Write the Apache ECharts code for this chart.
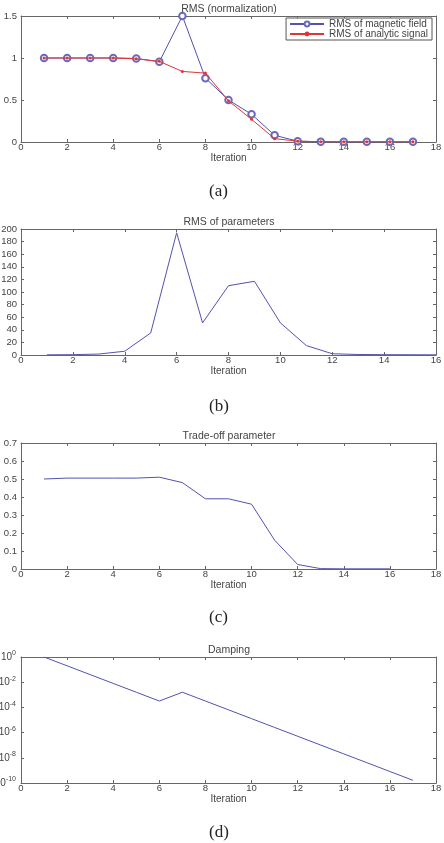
<!DOCTYPE html>
<html lang="en">
<head>
    <meta charset="UTF-8">
    <title>Inversion convergence</title>
    <style>
        body, html {
            margin: 0;
            padding: 0;
            background: #fff;
        }

        #main {
            width: 444px;
            height: 843px;
        }
    </style>
</head>
<body>
<div id="main"></div>
<script src="https://cdn.jsdelivr.net/npm/echarts@6/dist/echarts.min.js"></script>
<script>

    // (a) RMS (normalization)
    let iterA = [1, 2, 3, 4, 5, 6, 7, 8, 9, 10, 11, 12, 13, 14, 15, 16, 17];
    let rmsField = [1, 1, 1, 1, 0.995, 0.955, 1.5, 0.76, 0.5, 0.33, 0.08, 0.01, 0.003, 0.002, 0.002, 0.002, 0.002];
    let rmsSignal = [1, 1, 1, 1, 0.99, 0.96, 0.84, 0.82, 0.49, 0.27, 0.04, 0.01, 0.003, 0.002, 0.002, 0.002, 0.002];

    // (b) RMS of parameters
    let iterB = [1, 2, 3, 4, 5, 6, 7, 8, 9, 10, 11, 12, 13, 14, 15, 16];
    let rmsParams = [0.3, 0.5, 1.5, 6, 35, 194, 51, 110, 117, 51, 15, 2, 0.8, 0.5, 0.4, 0.3];

    // (c) Trade-off parameter
    let iterC = [1, 2, 3, 4, 5, 6, 7, 8, 9, 10, 11, 12, 13, 14, 15, 16];
    let tradeOff = [0.5, 0.505, 0.505, 0.505, 0.505, 0.51, 0.48, 0.39, 0.39, 0.36, 0.16, 0.025, 0.002, 0.001, 0.001, 0.001];

    // (d) Damping
    let iterD = [1, 2, 3, 4, 5, 6, 7, 8, 9, 10, 11, 12, 13, 14, 15, 16, 17];
    let damping = [1, 0.2, 0.04, 0.008, 0.0016, 0.00032, 0.0016, 0.00032, 0.000064, 0.0000128, 0.00000256,
        5.12e-7, 1.024e-7, 2.048e-8, 4.096e-9, 8.192e-10, 1.6384e-10];

    let titles = ['RMS (normalization)', 'RMS of parameters', 'Trade-off parameter', 'Damping'];
    let panelLabels = ['(a)', '(b)', '(c)', '(d)'];
    let legendNames = ['RMS of magnetic field', 'RMS of analytic signal'];

    let gridTops = [16, 229, 443, 657];
    let labelTops = [183, 398, 609, 824];
    let xMax = [18, 16, 18, 18];

    let font = 'Liberation Sans';
    let axisColor = '#666';
    let textColor = '#444';
    let lineBlue = '#5252b0';

    function pairs(xs, ys) {
        let out = [];
        for (let i = 0; i < xs.length; i++) {
            out.push([xs[i], ys[i]]);
        }
        return out;
    }

    function baseAxis(showLabel) {
        return {
            axisLine: {onZero: false, lineStyle: {color: axisColor, width: 1}},
            axisTick: {show: true, inside: true, length: 3, lineStyle: {color: axisColor}},
            axisLabel: {show: showLabel, color: textColor, fontFamily: font, fontSize: 9.5},
            splitLine: {show: false}
        };
    }

    let grids = [], xAxes = [], yAxes = [], titleList = [], graphics = [];
    for (let g = 0; g < 4; g++) {
        grids.push({left: 21, right: 8, top: gridTops[g], height: 126, outerBoundsMode: 'none'});
        titleList.push({
            text: titles[g],
            left: 229,
            top: gridTops[g] - 12,
            padding: 0,
            textAlign: 'center',
            textStyle: {fontFamily: font, fontSize: 10.5, fontWeight: 'normal', color: textColor}
        });
        graphics.push({
            type: 'text',
            left: 209,
            top: labelTops[g],
            style: {text: panelLabels[g], font: '17px "Liberation Serif"', fill: '#222'}
        });

        let xb = Object.assign(baseAxis(true), {
            type: 'value', gridIndex: g, position: 'bottom', min: 0, max: xMax[g], interval: 2,
            name: 'Iteration', nameLocation: 'middle', nameGap: 7,
            nameTextStyle: {fontFamily: font, fontSize: 10, color: textColor, verticalAlign: 'top'}
        });
        xb.axisLabel.margin = 0;
        let xt = Object.assign(baseAxis(false), {
            type: 'value', gridIndex: g, position: 'top', min: 0, max: xMax[g], interval: 2
        });
        xAxes.push(xb, xt);
    }

    // y axes per panel
    let yCfg = [
        {min: 0, max: 1.5, interval: 0.5},
        {min: 0, max: 200, interval: 20},
        {min: 0, max: 0.7, interval: 0.1}
    ];
    for (let g = 0; g < 3; g++) {
        let yl = Object.assign(baseAxis(true), {
            type: 'value', gridIndex: g, position: 'left',
            min: yCfg[g].min, max: yCfg[g].max, interval: yCfg[g].interval
        });
        yl.axisLabel.margin = 4;
        let yr = Object.assign(baseAxis(false), {
            type: 'value', gridIndex: g, position: 'right',
            min: yCfg[g].min, max: yCfg[g].max, interval: yCfg[g].interval
        });
        yAxes.push(yl, yr);
    }
    let yLog = Object.assign(baseAxis(true), {
        type: 'log', logBase: 10, gridIndex: 3, position: 'left', min: 1e-10, max: 1, interval: 2
    });
    yLog.axisLabel.margin = 5;
    yLog.axisLabel.fontSize = 10;
    yLog.axisLabel.formatter = function (v) {
        return '10{s|' + Math.round(Math.log10(v)) + '}';
    };
    yLog.axisLabel.rich = {s: {fontSize: 7, fontFamily: font, color: textColor, padding: [0, 0, 7, 0]}};
    let yLogR = Object.assign(baseAxis(false), {
        type: 'log', logBase: 10, gridIndex: 3, position: 'right', min: 1e-10, max: 1, interval: 2
    });
    yAxes.push(yLog, yLogR);

    let myChart = echarts.init(document.getElementById('main'), null, {renderer: 'canvas'});
    let option = {
        backgroundColor: '#fff',
        animation: false,
        title: titleList,
        grid: grids,
        xAxis: xAxes,
        yAxis: yAxes,
        legend: {
            data: legendNames,
            orient: 'vertical',
            right: 12,
            top: 18,
            itemGap: 0,
            itemWidth: 34,
            itemHeight: 6,
            padding: [1, 4, 1, 3],
            borderColor: '#555',
            borderWidth: 1,
            backgroundColor: '#fff',
            textStyle: {fontFamily: font, fontSize: 10, lineHeight: 8, color: textColor}
        },
        graphic: graphics,
        series: [
            {
                name: legendNames[0],
                type: 'line',
                xAxisIndex: 0, yAxisIndex: 0,
                data: pairs(iterA, rmsField),
                symbol: 'emptyCircle',
                symbolSize: 6.5,
                lineStyle: {color: lineBlue, width: 1},
                itemStyle: {color: '#6a6abc', borderColor: '#6a6abc', borderWidth: 1},
                z: 2
            },
            {
                name: legendNames[1],
                type: 'line',
                xAxisIndex: 0, yAxisIndex: 0,
                data: pairs(iterA, rmsSignal),
                symbol: 'circle',
                symbolSize: 3,
                lineStyle: {color: '#e03535', width: 1},
                itemStyle: {color: '#e03535'},
                z: 3
            },
            {
                type: 'line',
                xAxisIndex: 2, yAxisIndex: 2,
                data: pairs(iterB, rmsParams),
                showSymbol: false,
                lineStyle: {color: lineBlue, width: 1}
            },
            {
                type: 'line',
                xAxisIndex: 4, yAxisIndex: 4,
                data: pairs(iterC, tradeOff),
                showSymbol: false,
                lineStyle: {color: lineBlue, width: 1}
            },
            {
                type: 'line',
                xAxisIndex: 6, yAxisIndex: 6,
                data: pairs(iterD, damping),
                showSymbol: false,
                lineStyle: {color: lineBlue, width: 1}
            }
        ]
    };

    myChart.setOption(option);

</script>
</body>
</html>
